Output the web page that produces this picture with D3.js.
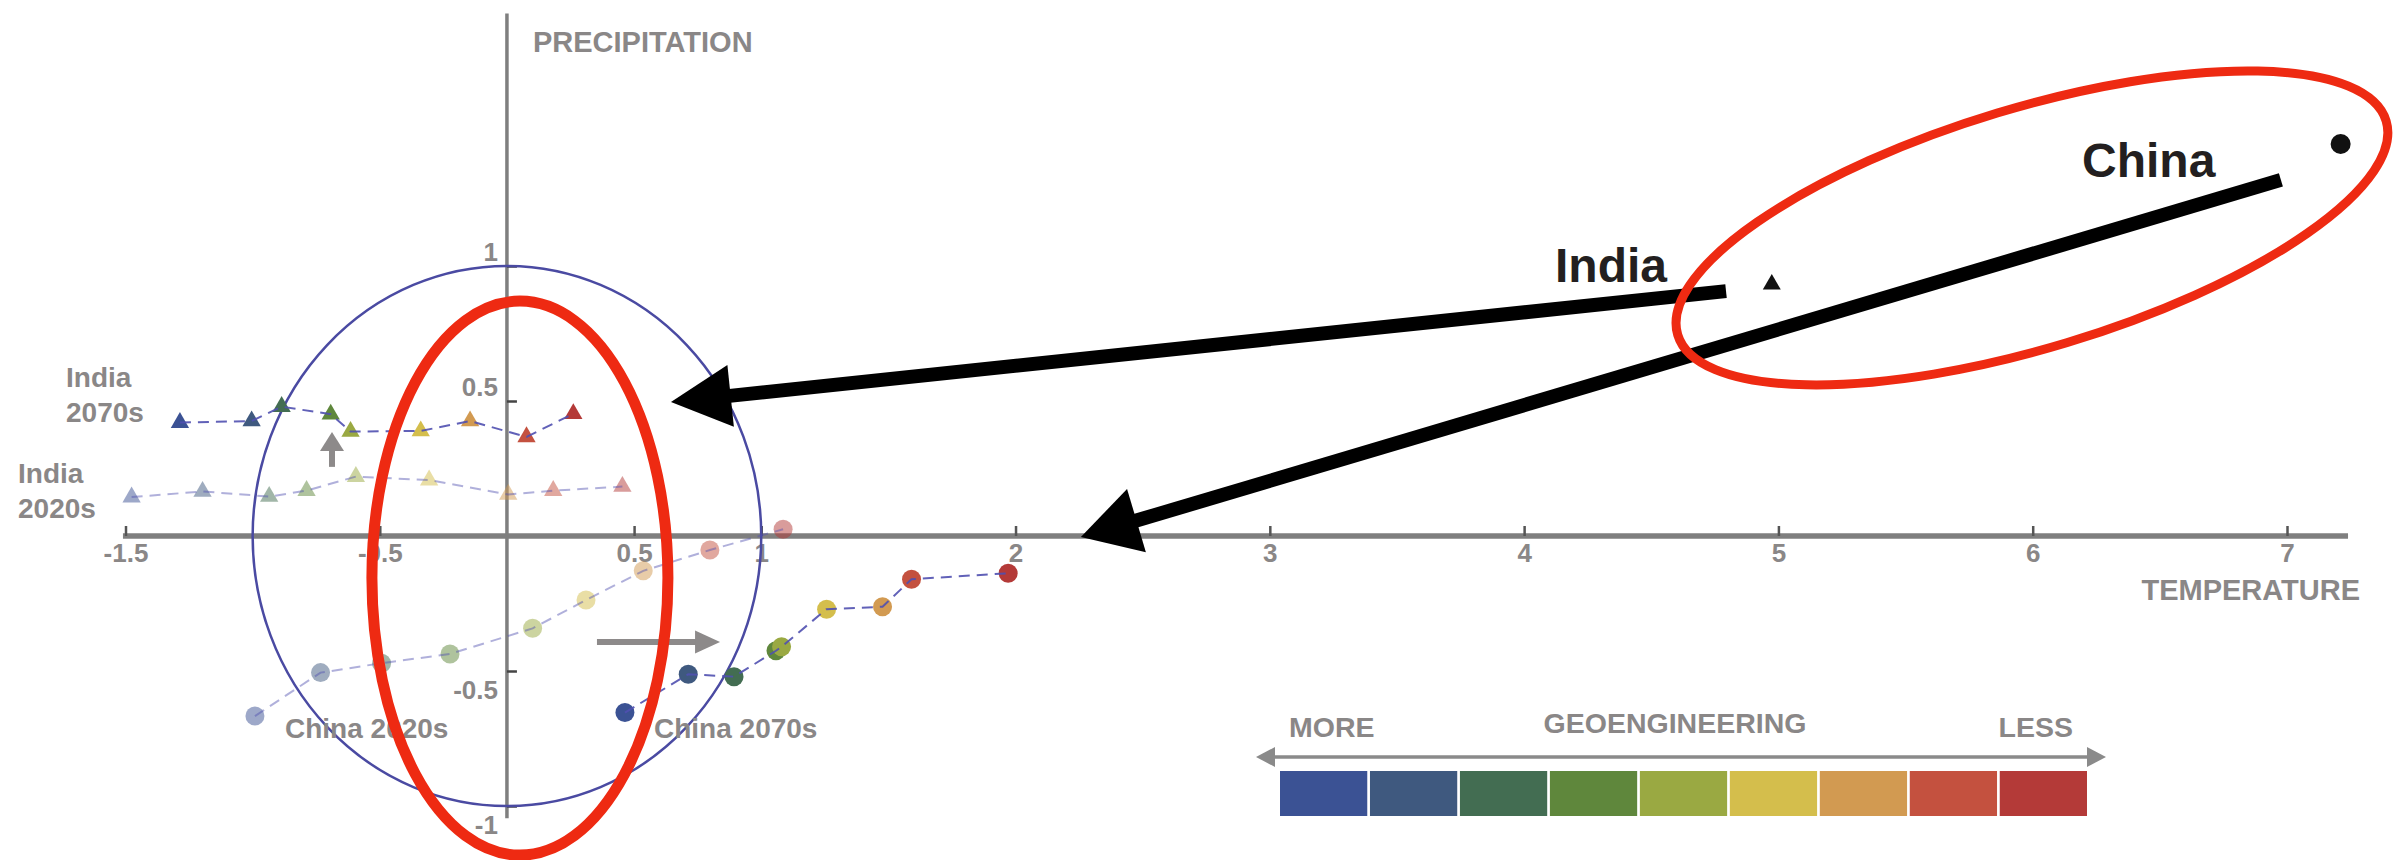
<!DOCTYPE html>
<html><head><meta charset="utf-8">
<script src="https://cdn.jsdelivr.net/npm/d3@7"></script>
<style>
body{margin:0;background:#fff}
svg{display:block}
text{font-family:'Liberation Sans',Arial,Helvetica,sans-serif;font-weight:bold}
</style>
</head><body><svg id="c" width="2405" height="860"></svg>
<script>
// ---------- data ----------
const geoLevels = ["L1","L2","L3","L4","L5","L6","L7","L8","L9"]; // more -> less geoengineering
const levelColors = ["#3b5294","#3f597f","#436d52","#5f873c","#9aa942","#d4be4c","#d29a51","#c4513f","#b43a38"];

const india2020sTemp   = [-1.476,-1.197,-0.935,-0.788,-0.594,-0.306,0.005,0.182,0.454];
const india2020sPrecip = [0.144,0.165,0.146,0.168,0.220,0.207,0.154,0.168,0.183];
const india2070sTemp   = [-1.286,-1.004,-0.886,-0.693,-0.615,-0.339,-0.145,0.077,0.261];
const india2070sPrecip = [0.420,0.426,0.479,0.451,0.387,0.389,0.426,0.367,0.453];
const china2020sTemp   = [-0.991,-0.733,-0.493,-0.224,0.101,0.311,0.536,0.798,1.086];
const china2020sPrecip = [-0.667,-0.506,-0.471,-0.437,-0.342,-0.237,-0.129,-0.052,0.025];
const china2070sTemp   = [0.464,0.713,0.893,1.058,1.080,1.257,1.477,1.591,1.971];
const china2070sPrecip = [-0.654,-0.512,-0.521,-0.425,-0.410,-0.271,-0.262,-0.160,-0.138];

const noGeoIndia = {temp:4.974, precip:0.932};
const noGeoChina = {temp:7.211, precip:1.452};

const xTicks = [-1.5,-0.5,0.5,1,2,3,4,5,6,7];
const xTickLabels = ["-1.5","-0.5","0.5","1","2","3","4","5","6","7"];
const yTicks = [1,0.5,-0.5,-1];
const yTickLabels = ["1","0.5","-0.5","-1"];

// ---------- scales ----------
const svg = d3.select("#c");
const x = d3.scaleLinear().domain([-1.5, 7]).range([125.5, 2287]);
const y = d3.scaleLinear().domain([-1, 1]).range([806, 266]);
const gray = "#8a8787";
const axisGray = "#7f7f7f";

// ---------- axes ----------
svg.append("line").attr("x1", x(-1.51)).attr("x2", x(7.24)).attr("y1", y(0)).attr("y2", y(0))
  .attr("stroke", axisGray).attr("stroke-width", 5.5);
svg.append("line").attr("x1", x(0)).attr("x2", x(0)).attr("y1", y(1.935)).attr("y2", y(-1.045))
  .attr("stroke", axisGray).attr("stroke-width", 3.5);

const xAxis = d3.axisBottom(x).tickValues(xTicks).tickSizeInner(-10).tickSizeOuter(0).tickPadding(8)
  .tickFormat((d,i)=>xTickLabels[i]);
const gx = svg.append("g").attr("transform", `translate(0,${y(0)})`).call(xAxis);
gx.select(".domain").remove();
gx.selectAll(".tick line").attr("stroke", "#555").attr("stroke-width", 2.5);
gx.selectAll(".tick text").attr("fill", gray).attr("font-size", 26)
  .attr("font-family", "'Liberation Sans',Arial,sans-serif");

const yAxis = d3.axisLeft(y).tickValues(yTicks).tickSizeInner(-10).tickSizeOuter(0).tickPadding(8)
  .tickFormat((d,i)=>yTickLabels[i]);
const gy = svg.append("g").attr("transform", `translate(${x(0)},0)`).call(yAxis);
gy.select(".domain").remove();
gy.selectAll(".tick line").attr("stroke", "#444").attr("stroke-width", 2.5);
gy.selectAll(".tick text").attr("fill", gray).attr("font-size", 26)
  .attr("font-family", "'Liberation Sans',Arial,sans-serif")
  .attr("x", -9)
  .attr("dy", d => d > 0 ? "-0.2em" : "1.05em");

svg.append("text").attr("x", x(0) + 26).attr("y", 52).attr("fill", gray).attr("font-size", 29)
  .text("PRECIPITATION");
svg.append("text").attr("x", 2360).attr("y", 600).attr("text-anchor", "end").attr("fill", gray).attr("font-size", 29)
  .text("TEMPERATURE");

// ---------- unit circle ----------
svg.append("ellipse").attr("cx", x(0)).attr("cy", y(0))
  .attr("rx", x(1) - x(0)).attr("ry", y(0) - y(1))
  .attr("fill", "none").attr("stroke", "#4a4aa2").attr("stroke-width", 2.5);

// ---------- series ----------
const series = [
  {t: india2020sTemp, p: india2020sPrecip, shape: "tri", faded: true},
  {t: china2020sTemp, p: china2020sPrecip, shape: "circ", faded: true},
  {t: india2070sTemp, p: india2070sPrecip, shape: "tri", faded: false},
  {t: china2070sTemp, p: china2070sPrecip, shape: "circ", faded: false}
];
const tri = d3.symbol(d3.symbolTriangle, 145);
const line = d3.line().x(d => x(d[0])).y(d => y(d[1]));
series.forEach(s => {
  const pts = s.t.map((v,i) => [v, s.p[i], i]);
  const g = svg.append("g");
  if (s.shape === "tri") {
    g.selectAll("path").data(pts).join("path")
      .attr("d", tri).attr("transform", d => `translate(${x(d[0])},${y(d[1])})`)
      .attr("fill", d => levelColors[d[2]]).attr("fill-opacity", s.faded ? 0.5 : 1);
  } else {
    g.selectAll("circle").data(pts).join("circle")
      .attr("cx", d => x(d[0])).attr("cy", d => y(d[1])).attr("r", 9.5)
      .attr("fill", d => levelColors[d[2]]).attr("fill-opacity", s.faded ? 0.5 : 1);
  }
  svg.append("path").attr("d", line(pts)).attr("fill", "none")
    .attr("stroke", "#5050b0").attr("stroke-width", 2).attr("stroke-dasharray", "11,7")
    .attr("stroke-opacity", s.faded ? 0.45 : 0.9);
});

// ---------- gray shift arrows ----------
function blockArrow(x1, y1, x2, y2, shaft, headLen, headW, color) {
  const dx = x2 - x1, dy = y2 - y1, L = Math.hypot(dx, dy);
  const ux = dx / L, uy = dy / L, px = -uy, py = ux;
  const bx = x2 - ux * headLen, by = y2 - uy * headLen;
  svg.append("line").attr("x1", x1).attr("y1", y1).attr("x2", bx + ux).attr("y2", by + uy)
    .attr("stroke", color).attr("stroke-width", shaft);
  svg.append("path").attr("d",
    `M${x2},${y2}L${bx + px * headW / 2},${by + py * headW / 2}L${bx - px * headW / 2},${by - py * headW / 2}Z`)
    .attr("fill", color);
}
const shiftGray = "#8d8a8a";
blockArrow(x(-0.688), y(0.256), x(-0.688), y(0.385), 6, 19, 24, shiftGray);
blockArrow(x(0.354), y(-0.393), x(0.838), y(-0.393), 6, 25, 23, shiftGray);

// ---------- series labels ----------
const lab = (tx, ty, s) => svg.append("text").attr("x", tx).attr("y", ty).attr("fill", gray)
  .attr("font-size", 28).text(s);
lab(66, 387, "India"); lab(66, 422, "2070s");
lab(18, 483, "India"); lab(18, 518, "2020s");
lab(285, 738, "China 2020s"); lab(654, 738, "China 2070s");

// ---------- legend ----------
const band = d3.scaleBand().domain(geoLevels).range([1280, 2087]).paddingInner(0.03);
svg.append("g").selectAll("rect").data(geoLevels).join("rect")
  .attr("x", d => band(d)).attr("y", 771).attr("width", band.bandwidth()).attr("height", 45)
  .attr("fill", (d,i) => levelColors[i]);
const lg = "#8a8a8a";
svg.append("line").attr("x1", 1270).attr("x2", 2092).attr("y1", 757).attr("y2", 757)
  .attr("stroke", lg).attr("stroke-width", 3.5);
svg.append("path").attr("d", "M1256,757L1275,747L1275,767Z").attr("fill", lg);
svg.append("path").attr("d", "M2106,757L2087,747L2087,767Z").attr("fill", lg);
svg.append("text").attr("x", 1289).attr("y", 737).attr("fill", gray).attr("font-size", 28.5).text("MORE");
svg.append("text").attr("x", 1675).attr("y", 733).attr("text-anchor", "middle").attr("fill", gray).attr("font-size", 28.5).text("GEOENGINEERING");
svg.append("text").attr("x", 2073).attr("y", 737).attr("text-anchor", "end").attr("fill", gray).attr("font-size", 28.5).text("LESS");

// ---------- no-geoengineering points ----------
svg.append("path").attr("d", d3.symbol(d3.symbolTriangle, 140)())
  .attr("transform", `translate(${x(noGeoIndia.temp)},${y(noGeoIndia.precip)})`).attr("fill", "#111");
svg.append("circle").attr("cx", x(noGeoChina.temp)).attr("cy", y(noGeoChina.precip)).attr("r", 10).attr("fill", "#111");
svg.append("text").attr("x", 1555).attr("y", 282).attr("fill", "#231f20").attr("font-size", 48).text("India");
svg.append("text").attr("x", 2082).attr("y", 177).attr("fill", "#231f20").attr("font-size", 48).text("China");

// ---------- black pointer arrows ----------
blockArrow(x(4.794), y(0.907), x(0.645), y(0.496), 14, 60, 62, "#000");
blockArrow(x(6.976), y(1.319), x(2.257), y(-0.004), 14, 58, 66, "#000");

// ---------- red highlight ellipses ----------
const red = "#ee2a12";
svg.append("ellipse").attr("cx", x(0.051)).attr("cy", y(-0.156)).attr("rx", 148).attr("ry", 277)
  .attr("fill", "none").attr("stroke", red).attr("stroke-width", 11);
svg.append("ellipse").attr("cx", 0).attr("cy", 0).attr("rx", 370).attr("ry", 120)
  .attr("transform", `translate(${x(5.997)},${y(1.141)}) rotate(-16.8)`)
  .attr("fill", "none").attr("stroke", red).attr("stroke-width", 9);
</script>
</body></html>
